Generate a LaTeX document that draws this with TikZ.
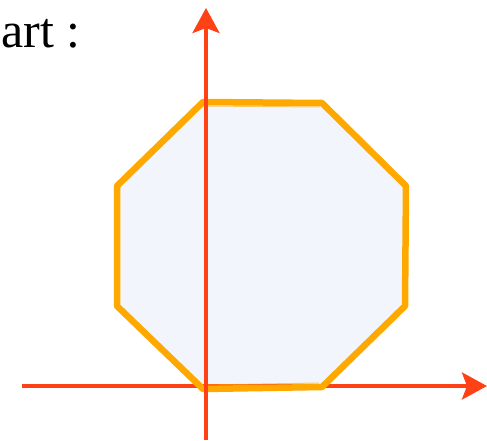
\documentclass[tikz,border=0pt]{standalone}
\usepackage{fontspec}
\setmainfont{Liberation Serif}
\definecolor{axisred}{RGB}{255,66,22}
\definecolor{brush}{RGB}{255,168,0}
\definecolor{paleblue}{RGB}{242,246,252}
\usetikzlibrary{arrows.meta}

\begin{document}
\begin{tikzpicture}[x=1pt, y=1pt]
          \useasboundingbox (0,0) rectangle (487,440);
          % axes end points
          \coordinate (xs) at (22,54);
          \coordinate (xe) at (487,54);
          \coordinate (ys) at (206,0);
          \coordinate (ye) at (206,432);
          % octagon corners
          \coordinate (p1) at (203,338);
          \coordinate (p2) at (322,337);
          \coordinate (p3) at (406,254);
          \coordinate (p4) at (405,134);
          \coordinate (p5) at (322,53);
          \coordinate (p6) at (203,51);
          \coordinate (p7) at (117,134);
          \coordinate (p8) at (117,254);
          \node[font=\fontsize{50}{56}\selectfont, anchor=base west, inner sep=0pt] (lbl) at (1,392) {art :};
          \fill[paleblue] (p1) -- (p2) -- (p3) -- (p4) -- (p5) -- (p6) -- (p7) -- (p8) -- cycle;
          \draw[axisred, line width=4pt, -{Stealth[length=25pt, width=27pt, inset=5pt]}] (xs) -- (xe);
          \draw[brush, line width=6.5pt, line join=round] (p1) -- (p2) -- (p3) -- (p4) -- (p5) -- (p6) -- (p7) -- (p8) -- cycle;
          \draw[brush, line width=1pt, opacity=0.6] ([shift={(2,-4)}]p1) -- ([shift={(-2,-4)}]p2);
          \draw[brush, line width=1pt, opacity=0.6] ([shift={(3,4)}]p6) -- ([shift={(-3,4)}]p5);
          \draw[axisred, line width=4pt, -{Stealth[length=25pt, width=27pt, inset=5pt]}] (ys) -- (ye);
        \end{tikzpicture}
\end{document}
